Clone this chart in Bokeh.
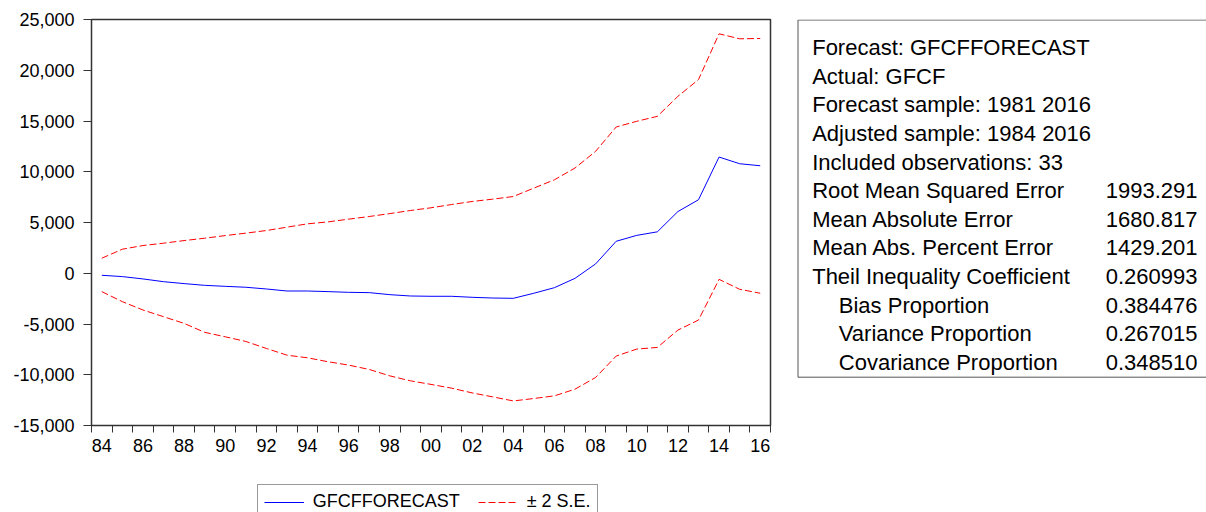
from bokeh.plotting import figure
from bokeh.models import (FixedTicker, NumeralTickFormatter, BoxAnnotation,
                          Legend, LegendItem, Range1d)
from bokeh.layouts import row, column
from bokeh.core.properties import value
from bokeh.embed import file_html
from bokeh.resources import INLINE

# ---------------- data ----------------
years = list(range(1984, 2017))
forecast = [-200, -330, -560, -830, -1020, -1190, -1290, -1380, -1550, -1750,
            -1750, -1810, -1880, -1910, -2110, -2240, -2270, -2270, -2370, -2440,
            -2470, -1970, -1420, -500, 920, 3150, 3730, 4080, 6080, 7240,
            11450, 10790, 10590]
upper = [1480, 2370, 2730, 2960, 3220, 3450, 3710, 3950, 4210, 4540,
         4870, 5060, 5330, 5590, 5880, 6180, 6450, 6770, 7070, 7300,
         7560, 8390, 9210, 10370, 12010, 14410, 14970, 15460, 17430, 19080,
         23590, 23100, 23130]
lower = [-1810, -2800, -3620, -4280, -4940, -5820, -6260, -6720, -7410, -8070,
         -8330, -8720, -9050, -9480, -10110, -10600, -10950, -11320, -11790, -12180,
         -12580, -12340, -12080, -11420, -10270, -8160, -7470, -7310, -5600, -4610,
         -600, -1580, -1970]

x_tick_years = list(range(1984, 2017, 2))
x_tick_labels = ["84", "86", "88", "90", "92", "94", "96", "98", "00",
                 "02", "04", "06", "08", "10", "12", "14", "16"]
y_ticks = [-15000, -10000, -5000, 0, 5000, 10000, 15000, 20000, 25000]

stats_names = ["Forecast: GFCFFORECAST", "Actual: GFCF",
               "Forecast sample: 1981 2016", "Adjusted sample: 1984 2016",
               "Included observations: 33", "Root Mean Squared Error",
               "Mean Absolute Error", "Mean Abs. Percent Error",
               "Theil Inequality Coefficient", "Bias Proportion",
               "Variance Proportion", "Covariance Proportion"]
stats_values = ["", "", "", "", "", "1993.291", "1680.817", "1429.201",
                "0.260993", "0.384476", "0.267015", "0.348510"]
stats_indent = [False] * 9 + [True] * 3

series_names = ["GFCFFORECAST", "\u00b1 2 S.E."]

FONT = "Liberation Sans"
BLUE = "#0000FF"
RED = "#FF0000"
DASH = "7 3"

MAIN_W, MAIN_H = 790, 465
FRAME_TOP, FRAME_BOTTOM = 19, 425

# ---------------- main chart ----------------
p = figure(width=MAIN_W, height=MAIN_H, output_backend="svg", toolbar_location=None,
           x_range=Range1d(1983.5, 2016.5), y_range=Range1d(-15000, 25000),
           min_border_left=91, min_border_right=20, min_border_top=FRAME_TOP,
           min_border_bottom=MAIN_H - FRAME_BOTTOM)
p.xgrid.visible = False
p.ygrid.visible = False
p.outline_line_color = "#333333"
p.outline_line_width = 1.5
p.outline_line_alpha = 1.0
p.background_fill_color = "white"
p.border_fill_color = "white"

xa = p.xaxis[0]
xa.ticker = FixedTicker(ticks=x_tick_years,
                        minor_ticks=[y - 0.5 for y in years] + [years[-1] + 0.5])
xa.major_label_overrides = dict(zip(x_tick_years, x_tick_labels))
xa.major_tick_out = 0
xa.major_tick_in = 0
xa.minor_tick_out = 7
xa.minor_tick_in = 0
xa.minor_tick_line_color = "#333333"
xa.axis_line_color = None
xa.major_label_standoff = 6

ya = p.yaxis[0]
ya.ticker = FixedTicker(ticks=y_ticks, minor_ticks=[])
ya.formatter = NumeralTickFormatter(format="0,0")
ya.major_tick_out = 8
ya.major_tick_in = 0
ya.minor_tick_out = 0
ya.minor_tick_in = 0
ya.major_tick_line_color = "#333333"
ya.axis_line_color = None
ya.major_label_standoff = 9

for ax in (xa, ya):
    ax.major_label_text_font = FONT
    ax.major_label_text_font_size = "18px"
    ax.major_label_text_color = "black"

p.line(years, upper, line_color=RED, line_width=1, line_dash=DASH)
p.line(years, lower, line_color=RED, line_width=1, line_dash=DASH)
p.line(years, forecast, line_color=BLUE, line_width=1)

# ---------------- statistics panel ----------------
W2 = 1206 - MAIN_W
p2 = figure(width=W2, height=MAIN_H, output_backend="svg", toolbar_location=None,
            x_range=Range1d(0, W2), y_range=Range1d(FRAME_BOTTOM, FRAME_TOP),
            x_axis_type=None, y_axis_type=None,
            min_border_left=0, min_border_right=0, min_border_top=FRAME_TOP,
            min_border_bottom=MAIN_H - FRAME_BOTTOM)
p2.xgrid.visible = False
p2.ygrid.visible = False
p2.outline_line_color = None
p2.background_fill_color = "white"
p2.border_fill_color = "white"

p2.add_layout(BoxAnnotation(left=7.5, right=W2 + 50, top=19.5, bottom=376.7,
                            fill_alpha=0, line_color="#555555", line_width=1,
                            line_alpha=1))

row_y = [47.3 + 28.58 * i for i in range(len(stats_names))]
name_x = [48.3 if ind else 21.7 for ind in stats_indent]
p2.text(x=name_x, y=row_y, text=stats_names, text_font=value(FONT),
        text_font_size="22px", text_baseline="alphabetic", text_align="left",
        text_color="black")
p2.text(x=[407] * len(stats_values), y=row_y, text=stats_values,
        text_font=value(FONT), text_font_size="22px", text_baseline="alphabetic",
        text_align="right", text_color="black")

# ---------------- legend strip ----------------
LEG_H = 512 - MAIN_H
pl = figure(width=MAIN_W, height=LEG_H, output_backend="svg", toolbar_location=None,
            x_range=Range1d(1983.5, 2016.5), y_range=Range1d(-15000, 25000),
            x_axis_type=None, y_axis_type=None,
            min_border_left=91, min_border_right=20, min_border_top=0,
            min_border_bottom=0)
pl.xgrid.visible = False
pl.ygrid.visible = False
pl.outline_line_color = None
pl.background_fill_color = "white"
pl.border_fill_color = "white"
lf = pl.line(years, forecast, line_color=BLUE, line_width=1, visible=False)
lu = pl.line(years, upper, line_color=RED, line_width=1, line_dash=DASH,
             visible=False)

legend = Legend(items=[LegendItem(label=series_names[0], renderers=[lf]),
                       LegendItem(label=series_names[1], renderers=[lu])],
                orientation="horizontal", location=(165.7, -7.3),
                padding=6, spacing=18, glyph_width=40, label_standoff=9, margin=0,
                border_line_color="#333333", border_line_width=1,
                background_fill_alpha=0, click_policy="none",
                label_text_font=FONT, label_text_font_size="18px",
                label_text_color="black")
pl.add_layout(legend, "center")

layout = column(row(p, p2, spacing=0), pl, spacing=0)
open("out.html", "w").write(file_html(layout, INLINE))
